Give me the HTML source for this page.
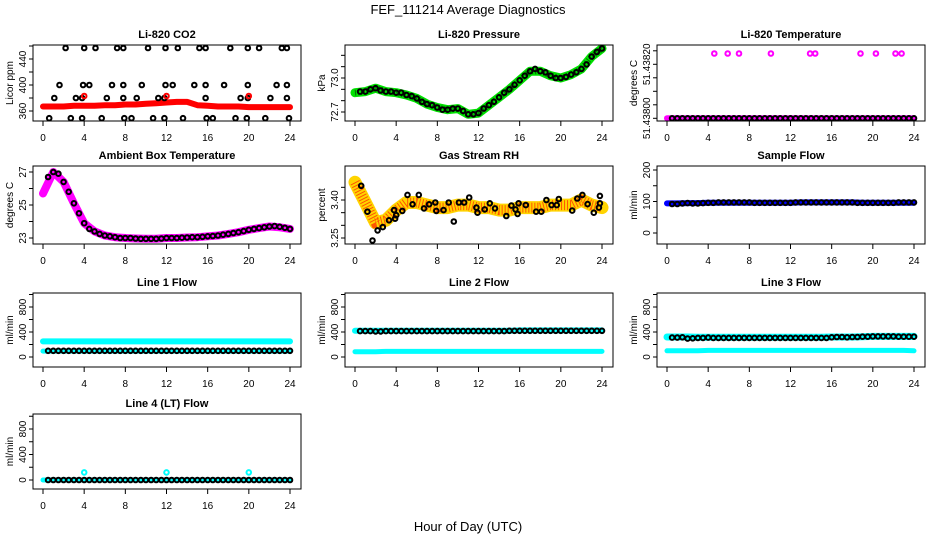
<!DOCTYPE html>
<html><head><meta charset="utf-8">
<style>
html,body{margin:0;padding:0;background:#fff;}
svg{display:block;font-family:"Liberation Sans",Arial,sans-serif;}
</style></head>
<body>
<svg id="chart" width="936" height="540" viewBox="0 0 936 540">
<rect x="0" y="0" width="936" height="540" fill="#fff"/>
<text x="468" y="14" text-anchor="middle" font-size="13">FEF_111214  Average Diagnostics</text>
<text x="468" y="531" text-anchor="middle" font-size="13">Hour of Day (UTC)</text>
</svg>
<script>
const xTicks = [0, 4, 8, 12, 16, 20, 24];
const bandHours = [0,1,2,3,4,5,6,7,8,9,10,11,12,13,14,15,16,17,18,19,20,21,22,23,24];
const markerHours = [0.5,1,1.5,2,2.5,3,3.5,4,4.5,5,5.5,6,6.5,7,7.5,8,8.5,9,9.5,10,10.5,11,11.5,12,12.5,13,13.5,14,14.5,15,15.5,16,16.5,17,17.5,18,18.5,19,19.5,20,20.5,21,21.5,22,22.5,23,23.5,24];

// CO2
const co2Band = [367,367,367,368,368,368,369,369,370,370,371,372,373,374,374,369,368,367,367,367,366,366,366,366,366];
const co2OutHours = [2.2,4.0,5.1,7.2,7.8,10.2,11.9,13.1,15.2,15.8,18.2,19.9,21.0,23.2,23.7, 1.6,3.9,4.5,6.7,7.8,9.6,11.9,12.6,14.7,15.8,17.6,19.9,22.7,23.7, 1.1,3.2,3.8,6.2,7.8,9.1,11.2,11.8,15.8,19.2,19.9,22.1,23.7, 0.6,2.7,3.8,5.7,7.9,8.6,10.7,11.8,13.6,15.9,16.5,18.7,19.8,21.6,23.9];
const co2OutVals = [457,457,457,457,457,457,457,457,457,457,457,457,457,457,457, 400,400,400,400,400,400,400,400,400,400,400,400,400,400, 380,380,380,380,380,380,380,380,380,380,380,380,380, 349,349,349,349,349,349,349,349,349,349,349,349,349,349,349];
const co2RedHours = [4.0, 12.0, 20.0];
const co2RedVals = [383, 383, 383];

// Pressure
const presBand = [72.87,72.88,72.91,72.88,72.87,72.85,72.82,72.77,72.74,72.72,72.73,72.68,72.69,72.76,72.83,72.90,72.98,73.06,73.06,73.02,73.00,73.03,73.08,73.19,73.26];
const presMarkers = [72.88,72.88,72.90,72.91,72.89,72.88,72.88,72.87,72.87,72.85,72.84,72.82,72.79,72.77,72.76,72.74,72.72,72.72,72.73,72.73,72.71,72.68,72.68,72.69,72.73,72.76,72.79,72.83,72.87,72.90,72.94,72.98,73.02,73.06,73.08,73.06,73.05,73.02,73.00,73.00,73.01,73.03,73.05,73.08,73.12,73.19,73.23,73.26];

// Li-820 temperature
const tempBand = [51.438,51.438,51.438,51.438,51.438,51.438,51.438,51.438,51.438,51.438,51.438,51.438,51.438,51.438,51.438,51.438,51.438,51.438,51.438,51.438,51.438,51.438,51.438,51.438,51.438];
const tempMarkers = [51.438,51.438,51.438,51.438,51.438,51.438,51.438,51.438,51.438,51.438,51.438,51.438,51.438,51.438,51.438,51.438,51.438,51.438,51.438,51.438,51.438,51.438,51.438,51.438,51.438,51.438,51.438,51.438,51.438,51.438,51.438,51.438,51.438,51.438,51.438,51.438,51.438,51.438,51.438,51.438,51.438,51.438,51.438,51.438,51.438,51.438,51.438,51.438];
const tempHighHours = [4.6,5.9,7.0,10.1,13.9,14.4,18.8,20.3,22.2,22.8];
const tempHighVals = [51.43824,51.43824,51.43824,51.43824,51.43824,51.43824,51.43824,51.43824,51.43824,51.43824];

// Ambient box temperature
const ambBand = [25.7,27.0,26.4,25.1,23.9,23.4,23.15,23.05,23.0,22.97,22.95,22.95,23.0,23.0,23.03,23.05,23.1,23.15,23.25,23.35,23.5,23.6,23.7,23.65,23.55];
const ambMarkers = [26.7,27.0,26.9,26.4,25.8,25.1,24.5,23.9,23.55,23.4,23.25,23.15,23.1,23.05,23.0,23.0,23.0,22.97,22.95,22.95,22.95,22.95,22.97,23.0,23.0,23.0,23.02,23.03,23.05,23.05,23.07,23.1,23.12,23.15,23.2,23.25,23.3,23.35,23.42,23.5,23.55,23.6,23.65,23.7,23.72,23.68,23.62,23.55];

// Gas stream RH
const rhBand = [3.47,3.39,3.31,3.32,3.36,3.39,3.39,3.38,3.37,3.37,3.38,3.38,3.37,3.37,3.36,3.36,3.37,3.37,3.37,3.38,3.38,3.38,3.40,3.38,3.37];
const rhHours = [0.6,1.2,1.7,2.2,2.7,3.3,3.8,3.9,4.0,4.6,5.1,5.6,6.2,6.7,7.2,7.8,7.9,8.6,9.1,9.6,10.1,10.6,11.1,11.8,11.9,12.6,13.1,13.6,14.7,15.2,15.6,15.8,15.9,16.6,17.6,18.1,18.6,19.1,19.6,19.8,21.1,21.6,22.1,22.6,23.2,23.8,23.7,23.8];
const rhVals = [3.456,3.354,3.24,3.28,3.293,3.32,3.36,3.326,3.34,3.357,3.42,3.383,3.42,3.367,3.383,3.39,3.357,3.36,3.39,3.315,3.39,3.39,3.41,3.37,3.35,3.363,3.387,3.367,3.337,3.378,3.363,3.345,3.387,3.38,3.354,3.354,3.40,3.38,3.38,3.404,3.358,3.406,3.42,3.384,3.35,3.416,3.37,3.387];

// Sample flow
const sampleBand = [94,94,95,95,96,96,96,96,96,96,96,96,96,97,97,97,97,97,97,96,96,96,96,96,96];
const sampleMarkers = [92,92,94,95,94,94,95,96,96,97,97,97,97,97,97,97,96,96,96,96,96,96,96,96,97,97,97,97,97,97,97,97,97,97,97,97,96,96,96,96,96,96,96,96,97,97,97,97];

// Line flows
const l1BandA = [250,250,250,250,250,250,250,250,250,250,250,250,250,250,250,250,250,250,250,250,250,250,250,250,250];
const l1BandB = [95,95,95,95,95,95,95,95,95,95,95,95,95,95,95,95,95,95,95,95,95,95,95,95,95];
const l1Markers = [100,100,100,100,100,100,100,100,100,100,100,100,100,100,100,100,100,100,100,100,100,100,100,100,100,100,100,100,100,100,100,100,100,100,100,100,100,100,100,100,100,100,100,100,100,100,100,100];
const l2BandA = [420,420,420,420,420,420,420,420,420,420,420,420,420,420,420,420,425,425,425,425,425,425,425,425,425];
const l2BandB = [85,85,85,90,90,90,90,90,90,90,90,90,90,90,90,90,90,90,90,90,90,90,90,90,90];
const l2Markers = [415,415,415,410,410,415,415,415,415,415,415,415,415,415,415,415,415,415,415,415,415,415,415,415,415,415,415,415,415,420,420,420,420,420,420,420,420,420,420,420,420,420,420,420,420,420,420,420];
const l3BandA = [320,320,320,315,315,315,315,315,315,315,315,315,315,315,315,315,320,320,320,325,330,330,330,330,330];
const l3BandB = [100,100,100,100,105,105,105,105,105,105,105,105,105,105,105,105,105,105,105,105,105,105,105,105,100];
const l3Markers = [310,310,315,295,300,305,305,310,305,305,305,305,305,305,305,305,305,305,305,305,305,305,305,305,305,305,305,305,305,305,305,315,320,320,315,320,320,325,325,330,330,330,330,330,325,325,325,325];
const l4Band = [0,0,0,0,0,0,0,0,0,0,0,0,0,0,0,0,0,0,0,0,0,0,0,0,0];
const l4Markers = [0,0,0,0,0,0,0,0,0,0,0,0,0,0,0,0,0,0,0,0,0,0,0,0,0,0,0,0,0,0,0,0,0,0,0,0,0,0,0,0,0,0,0,0,0,0,0,0];
const l4SpikeHours = [4.0, 12.0, 20.0];
const l4SpikeVals = [120, 120, 120];

const flowTicks = [0,200,400,600,800,1000];
const flowLabels = ["0","","400","","800",""];

const svg = document.getElementById('chart');
const NS = 'http://www.w3.org/2000/svg';
function mk(tag, attrs){ const e=document.createElementNS(NS,tag); for(const k in attrs) e.setAttribute(k,attrs[k]); return e; }

const colX = [33, 345, 657];
const rowBox = [[45,121],[166,244],[293,367],[414,489]];

function panel(cfg){
  const left = colX[cfg.col], right = left + 268;
  const top = rowBox[cfg.row][0], bottom = rowBox[cfg.row][1];
  const g = mk('g', {});
  
  
  svg.appendChild(g);
  const x = h => left + 10 + h * (247/24);
  const [v1,y1,v2,y2] = cfg.yref;
  const y = v => y1 + (v - v1) * (y2 - y1) / (v2 - v1);
  const cid = 'clip-' + cfg.name;
  const cp = mk('clipPath', {id: cid});
  cp.appendChild(mk('rect', {x:left, y:top, width:right-left, height:bottom-top}));
  g.appendChild(cp);
  const plot = mk('g', {'clip-path':'url(#'+cid+')'});
  
  
  g.appendChild(plot);
  (cfg.bands||[]).forEach((b, bi) => {
    const pts = b.vals.map((v,i) => x(bandHours[i]).toFixed(1)+','+y(v).toFixed(1)).join(' ');
    const pl = mk('polyline', {points:pts, fill:'none', stroke:b.color, 'stroke-width':b.w, 'stroke-linecap':'round', 'stroke-linejoin':'round'});
    
    
    plot.appendChild(pl);
    if (b.dots) {
      const pl2 = mk('polyline', {points:pts, fill:'none', stroke:b.dots, 'stroke-width':b.w-3, 'stroke-dasharray':'1 2', 'stroke-linecap':'butt', opacity:b.op||0.6});
      
      
      plot.appendChild(pl2);
    }
  });
  (cfg.markers||[]).forEach((m, mi) => {
    const n = Math.min(m.hours.length, m.vals.length);
    for (let i=0;i<n;i++){
      const c = mk('circle', {cx:x(m.hours[i]).toFixed(1), cy:y(m.vals[i]).toFixed(1), r:2.3, fill:'none', stroke:m.color, 'stroke-width':2});
      
      
      plot.appendChild(c);
    }
  });
  const box = mk('rect', {x:left, y:top, width:right-left, height:bottom-top, fill:'none', stroke:'#000', 'stroke-width':1});
  
  
  g.appendChild(box);
  const t = mk('text', {x:(left+right)/2, y:top-7, 'text-anchor':'middle', 'font-size':11, 'font-weight':'bold'});
  t.textContent = cfg.title;
  
  
  g.appendChild(t);
  xTicks.forEach(h => {
    const tk = mk('line', {x1:x(h), x2:x(h), y1:bottom, y2:bottom+5, stroke:'#000'});
    
    
    g.appendChild(tk);
    const tl = mk('text', {x:x(h), y:bottom+20, 'text-anchor':'middle', 'font-size':10});
    tl.textContent = String(h);
    
    
    g.appendChild(tl);
  });
  cfg.yTicks.forEach((v,i) => {
    const yy = y(v);
    const tk = mk('line', {x1:left-4, x2:left, y1:yy, y2:yy, stroke:'#000'});
    
    
    g.appendChild(tk);
    const lab = cfg.yLabels[i];
    if (lab) {
      const tl = mk('text', {x:0, y:0, 'text-anchor':'middle', 'font-size':10, transform:'translate('+(left-7)+','+yy.toFixed(1)+') rotate(-90)'});
      tl.textContent = lab;
      
      
      g.appendChild(tl);
    }
  });
  const yt = mk('text', {x:0, y:0, 'text-anchor':'middle', 'font-size':10, transform:'translate('+(left-20)+','+((top+bottom)/2)+') rotate(-90)'});
  yt.textContent = cfg.ylab;
  
  
  g.appendChild(yt);
}

panel({name:'co2-panel', col:0, row:0, title:'Li-820 CO2', ylab:'Licor ppm', yref:[360,111,440,59],
  yTicks:[360,380,400,420,440,460], yLabels:['360','','400','','440',''],
  bands:[{vals:co2Band, color:'#ff0000', w:6}],
  markers:[{hours:co2OutHours, vals:co2OutVals, color:'#000'},{hours:co2RedHours, vals:co2RedVals, color:'#ff0000'}]});

panel({name:'pressure-panel', col:1, row:0, title:'Li-820 Pressure', ylab:'kPa', yref:[72.7,112,73.0,78],
  yTicks:[72.7,72.8,72.9,73.0,73.1,73.2], yLabels:['72.7','','','73.0','',''],
  bands:[{vals:presBand, color:'#00e000', w:9, dots:'#000', op:0.5}],
  markers:[{hours:markerHours, vals:presMarkers, color:'#000'}]});

panel({name:'li820-temperature-panel', col:2, row:0, title:'Li-820 Temperature', ylab:'degrees C', yref:[51.438,118.3,51.4382,64.3],
  yTicks:[51.438,51.43805,51.4381,51.43815,51.4382,51.43825], yLabels:['51.43800','','','','51.43820',''],
  bands:[{vals:tempBand, color:'#ff00ff', w:6}],
  markers:[{hours:markerHours, vals:tempMarkers, color:'#000'},{hours:tempHighHours, vals:tempHighVals, color:'#ff00ff'}]});

panel({name:'ambient-temperature-panel', col:0, row:1, title:'Ambient Box Temperature', ylab:'degrees C', yref:[23,238,27,172],
  yTicks:[23,24,25,26,27], yLabels:['23','','25','','27'],
  bands:[{vals:ambBand, color:'#ff00ff', w:8}],
  markers:[{hours:markerHours, vals:ambMarkers, color:'#000'}]});

panel({name:'gas-rh-panel', col:1, row:1, title:'Gas Stream RH', ylab:'percent', yref:[3.25,238,3.40,200],
  yTicks:[3.25,3.30,3.35,3.40,3.45], yLabels:['3.25','','','3.40',''],
  bands:[{vals:rhBand, color:'#ffd400', w:13, dots:'#ff2000', op:0.7}],
  markers:[{hours:rhHours, vals:rhVals, color:'#000'}]});

panel({name:'sample-flow-panel', col:2, row:1, title:'Sample Flow', ylab:'ml/min', yref:[0,233,200,170],
  yTicks:[0,50,100,150,200], yLabels:['0','','100','','200'],
  bands:[{vals:sampleBand, color:'#0000ff', w:6}],
  markers:[{hours:markerHours, vals:sampleMarkers, color:'#000'}]});

panel({name:'line1-flow-panel', col:0, row:2, title:'Line 1 Flow', ylab:'ml/min', yref:[0,357,800,307],
  yTicks:flowTicks, yLabels:flowLabels,
  bands:[{vals:l1BandA, color:'#00ffff', w:6},{vals:l1BandB, color:'#00ffff', w:5}],
  markers:[{hours:markerHours, vals:l1Markers, color:'#000'}]});

panel({name:'line2-flow-panel', col:1, row:2, title:'Line 2 Flow', ylab:'ml/min', yref:[0,357,800,307],
  yTicks:flowTicks, yLabels:flowLabels,
  bands:[{vals:l2BandA, color:'#00ffff', w:6},{vals:l2BandB, color:'#00ffff', w:5}],
  markers:[{hours:markerHours, vals:l2Markers, color:'#000'}]});

panel({name:'line3-flow-panel', col:2, row:2, title:'Line 3 Flow', ylab:'ml/min', yref:[0,357,800,307],
  yTicks:flowTicks, yLabels:flowLabels,
  bands:[{vals:l3BandA, color:'#00ffff', w:7},{vals:l3BandB, color:'#00ffff', w:5}],
  markers:[{hours:markerHours, vals:l3Markers, color:'#000'}]});

panel({name:'line4-flow-panel', col:0, row:3, title:'Line 4 (LT) Flow', ylab:'ml/min', yref:[0,480,800,429],
  yTicks:flowTicks, yLabels:flowLabels,
  bands:[{vals:l4Band, color:'#00ffff', w:5}],
  markers:[{hours:markerHours, vals:l4Markers, color:'#000'},{hours:l4SpikeHours, vals:l4SpikeVals, color:'#00ffff'}]});
</script>
</body></html>
